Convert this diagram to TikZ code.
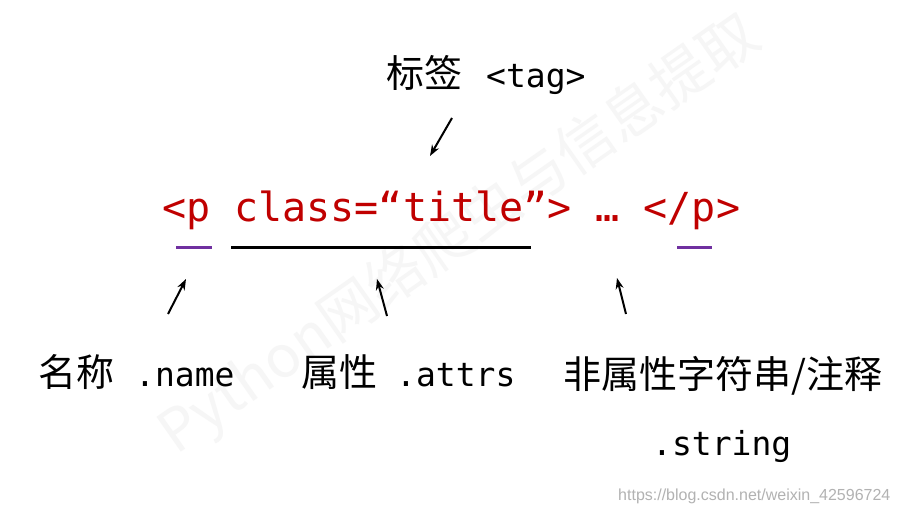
\documentclass[tikz,border=0pt]{standalone}
\usepackage{fontspec}
\newfontfamily\cjk{Noto Sans CJK SC}
\newfontfamily\mono{DejaVu Sans Mono}
\newfontfamily\urlfont{Liberation Sans}
\usetikzlibrary{arrows.meta}
\definecolor{codered}{HTML}{C00000}
\definecolor{ulpurple}{HTML}{7030A0}
\definecolor{wmgray}{HTML}{F6F6F6}
\newcommand\cjkL{\cjk\fontsize{38}{44}\selectfont}
\newcommand\monoS{\mono\fontsize{33}{40}\selectfont}
\newcommand\monoL{\mono\fontsize{40}{48}\selectfont}
\begin{document}
\begin{tikzpicture}[x=1pt,y=-1pt,
  txt/.style={inner sep=0pt,anchor=base west},
  arr/.style={line width=2pt,-{Stealth[length=11pt,width=8pt]}},
  ul/.style={line width=3pt}]
\useasboundingbox (0,0) rectangle (899,513);
\fill[white] (0,0) rectangle (899,513);
% watermark
\node[rotate=35, text=wmgray, inner sep=0pt, font={\cjk\fontsize{58}{60}\selectfont}] (wm) at (460,235) {Python网络爬虫与信息提取};
% tag label
\node[txt] (tag) at (386,88) {{\cjkL 标签}\hspace{24pt}{\monoS <tag>}};
\coordinate (tagS) at (452,118);
\coordinate (tagE) at (430,156);
\draw[arr] (tagS) -- (tagE);
% code line
\node[txt, text=codered] (code) at (162,222) {\monoL <p class=“title”> … </p>};
\coordinate (u1a) at (176,247); \coordinate (u1b) at (212,247);
\coordinate (u2a) at (231,247); \coordinate (u2b) at (531,247);
\coordinate (u3a) at (677,247); \coordinate (u3b) at (712,247);
\draw[ul, ulpurple] (u1a) -- (u1b);
\draw[ul, black] (u2a) -- (u2b);
\draw[ul, ulpurple] (u3a) -- (u3b);
% arrows from labels
\coordinate (nameS) at (168,314); \coordinate (nameE) at (186,279);
\coordinate (attrS) at (387,316); \coordinate (attrE) at (377,279);
\coordinate (strS) at (626,314); \coordinate (strE) at (617,278);
\draw[arr] (nameS) -- (nameE);
\draw[arr] (attrS) -- (attrE);
\draw[arr] (strS) -- (strE);
% labels
\node[txt] (name) at (38,386) {{\cjkL 名称}\hspace{21pt}{\monoS .name}};
\node[txt] (attrs) at (301,386) {{\cjkL 属性}\hspace{19pt}{\monoS .attrs}};
\node[txt] (nonattr) at (563,388) {\cjkL 非属性字符串/注释};
\node[txt] (string) at (652,455) {\monoS .string};
\node[txt, text=black!30] (url) at (618,500) {\urlfont\fontsize{16}{18}\selectfont https://blog.csdn.net/weixin\_42596724};
\end{tikzpicture}
\end{document}
